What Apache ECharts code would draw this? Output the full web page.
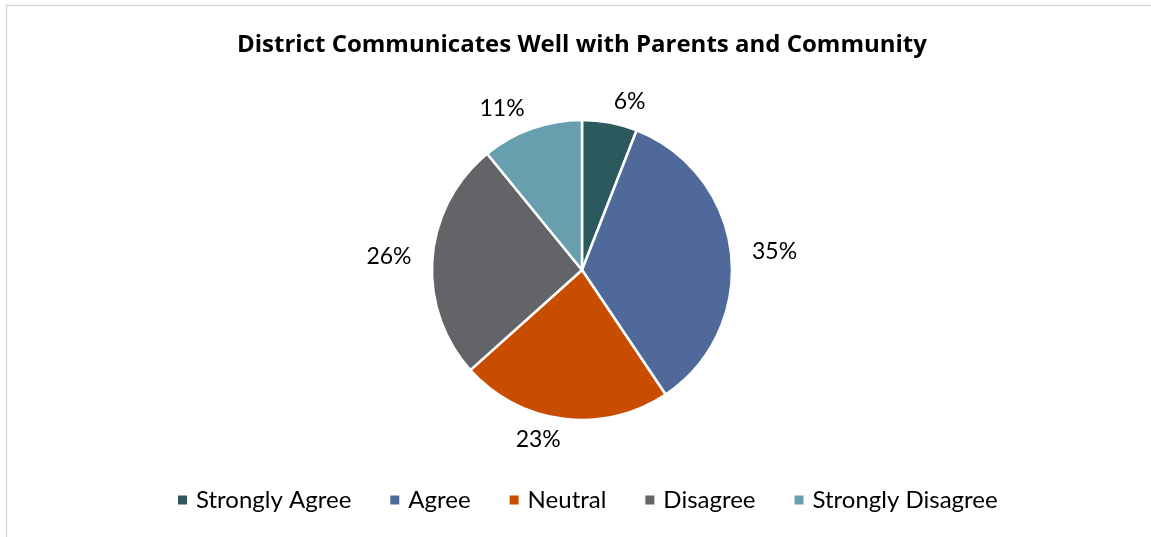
<!DOCTYPE html>
<html>
<head>
<meta charset="utf-8">
<title>District Communicates Well with Parents and Community</title>
<script src="https://cdn.jsdelivr.net/npm/echarts@6/dist/echarts.min.js"></script>
<style>
  html, body { margin: 0; padding: 0; background: #ffffff; }
  #chart { width: 1151px; height: 537px; }
</style>
</head>
<body>
<div id="chart"></div>
<script>
// Survey responses, in percent of respondents
const categories = ['Strongly Agree', 'Agree', 'Neutral', 'Disagree', 'Strongly Disagree'];
const percentages = [6, 35, 23, 26, 11];
const sliceColors = ['#2C595E', '#50699B', '#C84D00', '#636467', '#679FAE'];

const TEXT_FONT = 'Lato, "Open Sans", sans-serif';
const TITLE_FONT = '"Open Sans", Lato, sans-serif';

const chart = echarts.init(document.getElementById('chart'), null, { renderer: 'canvas' });

chart.setOption({
  animation: false,
  backgroundColor: '#ffffff',
  color: sliceColors,
  title: {
    text: 'District Communicates Well with Parents and Community',
    left: 237,
    top: 33,
    padding: 0,
    textStyle: { fontFamily: TITLE_FONT, fontWeight: 'bold', fontSize: 24, color: '#000000' }
  },
  legend: {
    data: categories,
    left: 178,
    top: 488,
    padding: 0,
    icon: 'rect',
    itemWidth: 9,
    itemHeight: 9,
    itemGap: 39,
    itemStyle: { borderWidth: 0 },
    textStyle: { fontFamily: TEXT_FONT, fontSize: 24, color: '#000000', padding: [0, 0, 0, 4] }
  },
  graphic: [{
    type: 'rect',
    shape: { x: 6.5, y: 5.5, width: 1200, height: 600 },
    style: { fill: 'none', stroke: '#D9D9D9', lineWidth: 1.5 },
    silent: true,
    z: -1
  }],
  series: [{
    type: 'pie',
    center: [582, 270],
    radius: 150,
    startAngle: 90,
    clockwise: true,
    avoidLabelOverlap: false,
    itemStyle: { borderColor: '#ffffff', borderWidth: 2.5 },
    label: {
      show: true,
      position: 'outside',
      formatter: '{c}%',
      fontFamily: TEXT_FONT,
      fontSize: 23,
      color: '#000000',
      distanceToLabelLine: 0
    },
    labelLine: { show: false, length: 21, length2: 0 },
    data: categories.map((name, i) => ({ name: name, value: percentages[i] }))
  }]
});
</script>
</body>
</html>
